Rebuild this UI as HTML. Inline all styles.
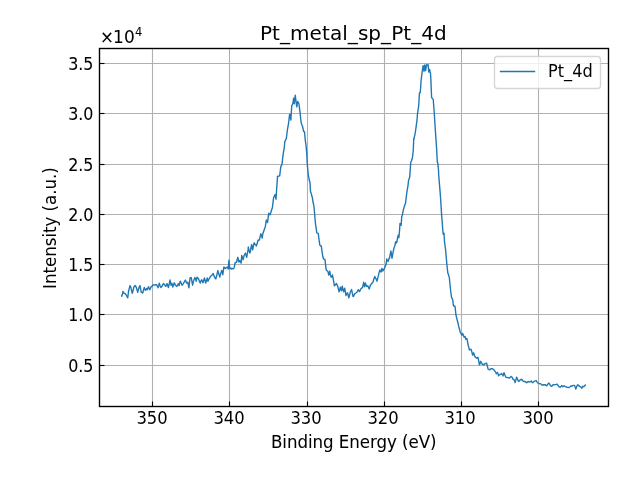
<!DOCTYPE html>
<html lang="en"><head><meta charset="utf-8"><title>Pt_metal_sp_Pt_4d</title>
<style>html,body{margin:0;padding:0;background:#fff;width:640px;height:480px;overflow:hidden}svg{display:block}text{font-family:'DejaVu Sans','Liberation Sans',sans-serif;fill:#000}</style></head><body>
<svg width="640" height="480" viewBox="0 0 640 480">
<rect x="0" y="0" width="640" height="480" fill="#fff"/>
<g stroke="#b0b0b0" stroke-width="1.110" fill="none">
<line x1="152.5" y1="48.5" x2="152.5" y2="406.5"/>
<line x1="229.5" y1="48.5" x2="229.5" y2="406.5"/>
<line x1="307.5" y1="48.5" x2="307.5" y2="406.5"/>
<line x1="384.5" y1="48.5" x2="384.5" y2="406.5"/>
<line x1="461.5" y1="48.5" x2="461.5" y2="406.5"/>
<line x1="538.5" y1="48.5" x2="538.5" y2="406.5"/>
<line x1="99.5" y1="63.5" x2="608.5" y2="63.5"/>
<line x1="99.5" y1="113.5" x2="608.5" y2="113.5"/>
<line x1="99.5" y1="164.5" x2="608.5" y2="164.5"/>
<line x1="99.5" y1="214.5" x2="608.5" y2="214.5"/>
<line x1="99.5" y1="264.5" x2="608.5" y2="264.5"/>
<line x1="99.5" y1="314.5" x2="608.5" y2="314.5"/>
<line x1="99.5" y1="365.5" x2="608.5" y2="365.5"/>
</g>
<g stroke="#000" stroke-width="1.110" fill="none">
<line x1="152.5" y1="401.50" x2="152.5" y2="406.5"/>
<line x1="229.5" y1="401.50" x2="229.5" y2="406.5"/>
<line x1="307.5" y1="401.50" x2="307.5" y2="406.5"/>
<line x1="384.5" y1="401.50" x2="384.5" y2="406.5"/>
<line x1="461.5" y1="401.50" x2="461.5" y2="406.5"/>
<line x1="538.5" y1="401.50" x2="538.5" y2="406.5"/>
<line x1="99.5" y1="63.5" x2="104.50" y2="63.5"/>
<line x1="99.5" y1="113.5" x2="104.50" y2="113.5"/>
<line x1="99.5" y1="164.5" x2="104.50" y2="164.5"/>
<line x1="99.5" y1="214.5" x2="104.50" y2="214.5"/>
<line x1="99.5" y1="264.5" x2="104.50" y2="264.5"/>
<line x1="99.5" y1="314.5" x2="104.50" y2="314.5"/>
<line x1="99.5" y1="365.5" x2="104.50" y2="365.5"/>
</g>
<polyline fill="none" stroke="#1f77b4" stroke-width="1.390" stroke-linejoin="round" stroke-linecap="square" points="121.75,295.50 121.75,296.29 122.90,292.40 122.91,291.41 124.07,293.23 125.00,293.60 125.23,293.69 126.39,295.31 126.40,295.50 127.54,297.44 127.70,297.80 128.70,290.17 128.80,290.30 129.86,286.05 130.00,285.60 131.02,287.86 131.10,288.40 132.18,293.17 132.50,292.90 133.34,289.45 133.90,287.00 134.50,286.12 135.20,285.40 135.66,286.16 136.30,287.50 136.82,289.04 137.70,292.40 137.97,291.03 139.10,287.50 139.13,287.27 140.00,285.60 140.29,287.33 141.25,292.20 141.45,292.17 142.61,293.01 142.80,292.70 143.77,289.15 144.25,287.50 144.93,289.16 145.40,290.30 146.09,289.82 146.60,288.40 147.25,289.48 147.50,289.60 148.40,286.82 148.50,286.75 149.56,288.99 149.90,289.80 150.72,287.62 151.00,286.60 151.88,286.65 152.70,285.20 153.04,285.03 154.20,284.83 155.36,285.13 155.50,284.70 156.52,284.71 156.90,285.20 157.68,286.70 158.10,287.70 158.83,285.25 159.25,283.30 159.99,285.42 160.90,287.50 161.15,287.17 162.31,285.74 162.50,285.20 163.47,283.55 164.40,284.20 164.63,285.00 165.79,286.20 165.80,286.60 166.95,283.60 167.20,283.75 168.10,286.69 168.40,287.50 169.26,283.73 170.00,280.00 170.42,282.02 171.00,285.20 171.58,283.54 171.90,283.30 172.74,286.77 172.80,287.00 173.90,283.79 174.25,282.80 175.00,284.10 175.06,284.74 176.22,285.87 176.90,286.40 177.38,285.53 178.30,283.60 178.53,284.54 179.20,285.50 179.69,283.32 180.20,281.25 180.85,282.23 182.00,285.00 182.01,285.22 183.17,283.82 183.90,282.70 184.33,281.82 185.30,280.10 185.49,280.18 186.65,283.08 186.70,283.10 187.70,282.70 187.81,282.14 188.90,287.80 188.96,287.50 190.00,278.00 190.12,278.15 191.10,277.50 191.28,277.76 192.44,284.41 192.60,285.20 193.60,280.55 193.75,280.30 194.76,278.16 194.90,277.50 195.92,279.85 196.10,281.25 197.00,277.50 197.08,277.17 198.24,278.59 198.40,278.40 199.39,281.33 200.30,283.10 200.55,281.63 201.70,279.80 201.71,279.63 202.87,282.76 202.90,282.70 204.03,279.13 204.50,278.00 205.19,281.46 205.75,283.10 206.35,280.65 207.30,278.00 207.51,279.11 208.00,281.25 208.67,279.41 209.82,277.97 210.20,276.60 210.98,276.00 212.14,274.99 213.30,273.56 213.40,274.20 214.46,276.97 215.62,278.85 215.80,278.90 216.78,275.30 217.90,270.50 217.94,271.11 219.10,274.74 219.80,277.00 220.25,275.18 221.41,271.14 221.70,270.50 222.57,273.50 222.80,274.70 223.73,267.94 223.75,267.20 224.89,267.68 225.20,268.60 226.05,267.83 227.21,267.24 227.50,267.20 228.25,269.10 228.37,267.60 228.90,260.20 229.53,266.28 229.80,268.60 230.68,268.35 231.40,269.10 231.84,268.27 233.00,268.76 233.75,268.60 234.16,267.39 235.20,262.50 235.32,262.79 236.48,262.14 236.60,262.00 237.64,257.80 237.80,257.30 238.80,261.68 238.90,262.00 239.80,260.60 239.96,260.78 241.10,263.00 241.11,263.18 241.70,255.50 242.27,256.87 243.10,259.70 243.43,258.37 244.10,255.50 244.59,254.61 245.50,253.10 245.75,254.22 246.70,257.30 246.91,256.06 248.07,249.65 248.30,247.00 249.23,251.21 249.90,253.10 250.39,251.57 251.54,244.70 251.75,244.70 252.70,249.80 252.70,249.63 253.86,244.10 254.20,242.80 255.02,244.37 256.18,244.94 256.25,246.10 257.34,243.05 258.10,240.00 258.50,240.50 259.50,240.00 259.66,238.71 260.81,233.81 260.90,233.90 261.97,236.99 262.20,238.10 262.80,233.90 263.13,232.92 264.20,229.70 264.29,229.76 265.00,227.50 265.45,225.89 266.30,220.00 266.61,220.55 267.50,222.50 267.77,220.82 268.70,213.30 268.93,213.53 270.00,214.20 270.09,214.85 271.24,211.32 271.30,210.80 272.40,207.72 272.50,206.70 273.56,198.00 273.70,197.50 274.72,195.20 275.00,194.70 275.88,198.24 276.00,199.20 276.70,188.30 277.04,184.02 277.50,176.30 278.20,176.50 279.36,175.71 279.70,175.80 280.52,168.80 280.80,166.70 281.67,165.15 282.00,164.20 282.83,156.81 283.30,153.30 283.99,149.26 284.00,149.75 284.90,141.25 285.15,141.01 286.10,138.75 286.31,138.78 287.40,130.00 287.47,129.46 288.60,123.10 288.63,122.52 289.60,114.40 289.79,114.49 290.90,120.00 290.95,118.42 291.75,105.60 292.10,105.27 292.75,103.75 293.26,100.87 293.60,98.10 294.25,103.75 294.42,102.29 295.25,95.25 295.58,98.05 296.10,101.90 296.74,106.90 296.75,106.90 297.75,101.50 297.90,101.87 298.60,103.10 299.06,104.38 299.25,106.25 300.22,113.85 300.25,114.40 301.10,122.50 301.38,123.36 302.40,126.25 302.53,126.34 303.60,131.25 303.69,131.04 304.50,131.90 304.85,135.22 305.25,140.00 306.01,145.40 306.10,146.25 306.70,152.70 307.00,158.30 307.17,161.63 307.50,166.70 308.30,175.00 308.33,174.94 309.20,180.00 309.49,180.82 310.00,182.50 310.50,191.70 310.65,192.42 311.30,193.30 311.81,195.74 312.50,198.30 312.96,201.76 313.70,205.00 314.12,208.18 314.70,215.00 315.28,221.50 315.60,224.40 316.44,230.31 316.75,232.80 317.60,233.20 318.25,233.40 318.76,237.59 319.75,244.60 319.92,245.24 321.08,246.23 321.25,245.90 322.24,252.77 322.75,256.25 323.39,258.56 323.90,259.10 324.55,259.27 325.00,259.60 325.71,265.88 326.10,269.40 326.87,270.58 327.80,271.25 328.03,271.93 328.75,275.00 329.19,274.17 329.70,271.25 330.35,274.49 331.00,276.90 331.51,277.16 332.50,275.00 332.67,275.94 333.82,282.44 334.40,285.90 334.98,285.18 336.14,283.84 336.25,283.40 337.30,285.16 337.75,286.25 338.46,289.37 339.10,291.90 339.62,290.02 340.40,287.20 340.78,289.11 341.50,290.90 341.94,287.93 342.25,286.25 343.10,289.85 343.75,291.90 344.25,289.63 344.70,288.10 345.41,291.84 346.00,295.60 346.57,294.26 347.50,292.80 347.73,293.24 348.80,297.90 348.89,297.60 350.05,293.31 350.30,291.90 351.21,290.36 351.60,289.60 352.37,293.42 353.10,296.60 353.52,296.42 354.60,293.75 354.68,293.80 355.84,293.02 356.90,292.25 357.00,291.99 358.16,289.73 358.40,290.00 359.32,291.36 359.70,291.50 360.48,289.42 361.60,288.10 361.64,288.33 362.60,287.40 362.80,286.44 363.65,282.30 363.95,284.33 364.50,286.70 365.11,284.15 365.40,283.00 366.27,285.64 366.40,286.40 367.43,286.03 367.80,285.70 368.59,287.47 369.15,289.10 369.75,287.21 370.50,285.00 370.91,284.53 372.07,283.07 373.00,282.00 373.23,281.23 374.38,277.43 374.80,276.50 375.54,278.09 376.70,279.89 376.90,281.20 377.86,277.65 378.50,275.40 379.02,272.85 379.90,269.90 380.18,270.91 381.00,272.00 381.34,271.22 381.90,268.50 382.50,269.17 382.90,271.00 383.66,269.72 384.70,267.80 384.81,267.47 385.97,264.26 386.10,264.40 386.75,258.90 387.13,259.84 388.10,261.40 388.29,260.76 389.45,257.54 389.50,258.20 390.61,252.30 390.90,250.90 391.77,256.59 392.00,258.20 392.93,253.22 393.40,250.60 394.09,247.72 394.70,246.20 395.24,244.03 395.70,241.70 396.40,242.74 396.70,242.70 397.50,238.50 397.56,237.67 398.20,235.20 398.72,236.68 398.90,237.60 399.50,231.00 399.88,225.26 400.00,223.50 401.04,224.70 401.20,225.20 401.70,216.60 402.20,215.48 403.36,210.08 403.40,209.80 404.52,205.84 405.60,203.00 405.67,201.96 406.80,192.70 406.83,192.44 407.99,185.55 408.50,180.75 409.15,178.78 409.70,177.30 410.31,168.53 410.70,162.80 411.47,160.78 412.40,157.70 412.63,155.73 413.30,150.00 413.75,138.50 413.79,139.72 414.95,134.36 415.00,134.50 416.10,126.94 417.00,120.00 417.26,116.81 417.50,113.75 418.42,107.68 418.75,105.00 419.40,93.75 419.58,92.74 420.25,92.50 420.74,86.28 421.00,81.25 421.90,73.98 422.25,71.25 423.06,65.90 423.10,65.60 424.00,71.25 424.22,68.84 424.75,65.00 425.38,68.64 425.60,70.60 426.50,64.80 426.53,65.17 427.69,65.30 428.10,64.60 428.75,71.90 428.85,72.09 429.60,69.40 430.01,71.78 430.40,72.50 430.90,80.00 431.17,87.20 431.60,97.50 432.33,98.44 433.10,99.40 433.30,100.00 433.49,103.01 434.30,113.30 434.65,119.45 435.00,125.00 435.80,136.70 435.81,136.72 436.70,150.00 436.96,155.56 437.30,161.70 438.00,164.20 438.12,166.34 438.50,170.00 438.70,175.00 439.28,182.16 439.80,188.30 440.44,196.44 440.70,200.00 441.50,213.30 441.60,214.90 442.30,223.30 442.76,229.76 443.20,234.20 443.92,233.29 444.00,233.30 444.50,241.70 445.08,246.00 445.60,250.00 446.23,257.17 446.75,263.10 447.39,269.39 447.90,273.40 448.55,274.68 449.40,278.10 449.71,281.50 450.30,287.50 450.87,292.49 451.60,297.80 452.03,298.20 452.75,299.70 453.19,303.88 453.50,305.90 454.35,306.29 455.00,306.25 455.51,310.80 455.90,314.70 456.66,317.94 457.25,320.30 457.82,322.19 458.70,326.40 458.98,327.24 460.00,331.10 460.14,332.01 461.30,333.78 461.80,335.20 462.46,334.47 462.70,333.40 463.62,335.87 464.10,337.20 464.78,336.98 465.00,336.50 465.85,339.20 465.94,339.15 466.80,338.50 467.09,339.25 468.20,345.30 468.25,345.33 469.41,349.74 469.50,350.00 470.57,349.27 471.10,349.40 471.73,351.42 472.60,355.10 472.89,354.54 473.60,352.80 474.05,354.00 474.90,356.80 475.21,356.65 476.30,358.20 476.37,357.98 477.52,357.71 478.00,357.20 478.68,360.84 479.40,364.90 479.84,363.96 480.75,361.30 481.00,362.15 482.16,363.87 482.40,364.30 483.32,364.36 484.00,364.90 484.48,364.01 485.10,363.60 485.64,363.46 486.70,363.20 486.80,363.82 487.95,368.46 488.10,369.00 489.11,369.55 489.80,369.70 490.27,369.22 491.20,368.60 491.43,368.73 492.59,368.81 492.90,369.00 493.75,369.77 494.30,370.40 494.91,371.12 496.07,373.00 496.30,373.75 497.23,372.60 497.50,372.40 498.38,374.89 498.60,375.80 499.54,374.78 500.25,374.40 500.70,374.25 501.60,373.50 501.86,373.83 503.00,375.40 503.02,376.00 504.00,372.70 504.18,373.37 505.34,376.02 505.70,377.10 506.50,377.46 507.40,377.50 507.66,377.66 508.81,377.82 509.20,378.10 509.97,377.72 511.13,376.38 511.20,376.50 512.29,377.48 512.80,378.90 513.45,379.49 514.20,379.80 514.61,380.90 515.10,382.50 515.77,380.41 516.60,377.10 516.93,377.77 518.09,380.55 518.25,381.20 519.24,381.01 519.60,380.50 520.40,379.75 521.56,379.27 521.60,379.20 522.72,380.74 523.60,381.40 523.88,381.46 525.04,381.55 525.30,381.60 526.20,382.38 526.60,382.70 527.36,382.28 528.00,381.60 528.52,381.56 529.67,382.12 529.70,382.00 530.83,381.34 531.30,380.90 531.99,382.27 532.70,382.70 533.15,382.25 534.25,381.40 534.31,381.18 535.47,380.93 536.00,380.50 536.63,381.38 537.30,382.50 537.79,382.82 538.94,383.42 538.95,383.40 540.10,383.91 540.60,383.80 541.26,384.25 542.20,385.20 542.42,385.18 543.58,384.71 543.90,385.20 544.74,384.76 545.50,384.70 545.90,385.31 546.90,385.80 547.06,385.44 548.22,383.72 548.80,383.00 549.37,383.66 550.20,385.20 550.53,385.55 551.69,386.29 551.75,386.30 552.85,384.85 553.20,384.70 554.01,384.83 554.80,384.70 555.17,384.64 556.33,384.39 556.80,384.10 557.49,384.75 558.30,385.80 558.65,386.44 559.80,387.21 560.10,387.40 560.96,386.34 561.60,385.60 562.12,386.02 562.70,386.70 563.28,386.28 564.10,385.80 564.44,386.15 565.60,386.57 565.75,386.70 566.76,387.26 567.70,387.40 567.92,387.47 569.08,387.44 569.60,387.10 570.23,386.74 571.20,385.80 571.39,385.82 572.50,386.00 572.55,385.61 573.71,385.39 573.95,385.20 574.80,385.80 574.87,386.18 575.80,389.10 576.03,388.42 576.70,386.30 577.19,385.70 577.80,384.70 578.35,385.16 579.10,386.00 579.51,386.19 580.50,386.90 580.66,386.92 581.60,388.20 581.82,388.07 582.70,386.30 582.98,386.48 583.80,386.90 584.14,386.42 585.30,384.94 585.30,385.20"/>
<rect x="99.5" y="48.5" width="509.0" height="358.0" fill="none" stroke="#000" stroke-width="1.390" stroke-linejoin="miter"/>
<g font-size="16.6667" text-anchor="middle" letter-spacing="0.000">
<text transform="translate(152.10,423.60) scale(0.9850,1.0400)">350</text>
<text transform="translate(229.10,423.60) scale(0.9850,1.0400)">340</text>
<text transform="translate(306.10,423.60) scale(0.9850,1.0400)">330</text>
<text transform="translate(383.10,423.60) scale(0.9850,1.0400)">320</text>
<text transform="translate(460.10,423.60) scale(0.9850,1.0400)">310</text>
<text transform="translate(538.10,423.60) scale(0.9850,1.0400)">300</text>
</g>
<g font-size="16.6667" text-anchor="end" letter-spacing="0.000" stroke="#000" stroke-width="0.050">
<text transform="translate(93.45,69.60) scale(0.9550,1.0300)">3.5</text>
<text transform="translate(93.45,119.60) scale(0.9550,1.0300)">3.0</text>
<text transform="translate(93.45,170.60) scale(0.9550,1.0300)">2.5</text>
<text transform="translate(93.45,220.60) scale(0.9550,1.0300)">2.0</text>
<text transform="translate(93.45,270.60) scale(0.9550,1.0300)">1.5</text>
<text transform="translate(93.45,320.60) scale(0.9550,1.0300)">1.0</text>
<text transform="translate(93.45,371.60) scale(0.9550,1.0300)">0.5</text>
</g>
<g stroke="#000" stroke-width="0.050"><text transform="translate(100.00,42.55) scale(1.0000,1.0100)" font-size="16.6667">×</text><text transform="translate(113.10,42.55) scale(1.0200,1.0600)" font-size="16.6667">10</text><text transform="translate(134.90,35.50) scale(0.9800,1.0800)" font-size="11.6670">4</text></g>
<text transform="translate(353.40,39.67) scale(1.0000,1.0000)" font-size="20.0000" text-anchor="middle" letter-spacing="0.060">Pt_metal_sp_Pt_4d</text>
<text transform="translate(353.70,447.52) scale(1.0000,1.0400)" font-size="16.6667" text-anchor="middle" letter-spacing="-0.060" stroke="#000" stroke-width="0.050">Binding Energy (eV)</text>
<text transform="translate(55.97,228.10) rotate(-90) scale(1.0000,1.0600)" font-size="16.6667" text-anchor="middle" letter-spacing="-0.030">Intensity (a.u.)</text>
<rect x="494.5" y="56.5" width="106" height="32" rx="3.1" ry="3.1" fill="#fff" fill-opacity="0.8" stroke="#ccc" stroke-opacity="0.8" stroke-width="1.39"/>
<line x1="500.5" y1="71.5" x2="534.5" y2="71.5" stroke="#1f77b4" stroke-width="1.390" stroke-linecap="square"/>
<text transform="translate(548.00,76.50) scale(0.9700,1.0700)" font-size="16.6667" letter-spacing="0.000">Pt_4d</text>
</svg></body></html>
